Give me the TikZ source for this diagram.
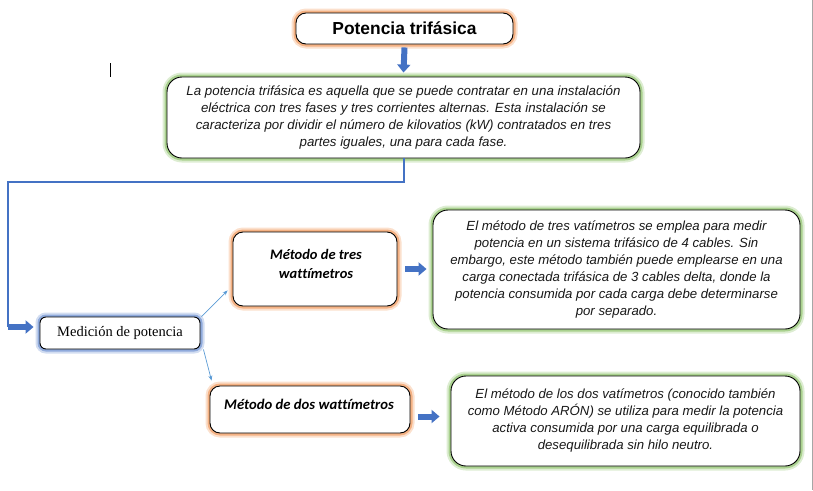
\documentclass[tikz,border=0pt]{standalone}
\usepackage{fontspec}
\setmainfont{Liberation Serif}
\newfontfamily\arialf{Liberation Sans}
\newfontfamily\calibrif[Ligatures=NoCommon]{Carlito}
\usetikzlibrary{arrows.meta,calc}
\definecolor{bluec}{HTML}{4472C4}
\definecolor{lblue}{HTML}{5B9BD5}
\definecolor{orglow}{HTML}{F4B183}
\definecolor{grglow}{HTML}{A9D18E}
\definecolor{blglow}{HTML}{8FAADC}
\tikzset{
  base/.style={draw=black, line width=0.9pt, fill=white, align=center, inner sep=0pt},
  orangebox/.style={base, rounded corners=10pt,
    preaction={draw=orglow!40, line width=9pt, rounded corners=10pt},
    preaction={draw=orglow, line width=5pt, rounded corners=10pt}},
  greenbox/.style={base, rounded corners=15pt,
    preaction={draw=grglow!40, line width=9pt, rounded corners=15pt},
    preaction={draw=grglow, line width=5pt, rounded corners=15pt}},
  bluebox/.style={base, rounded corners=6pt,
    preaction={draw=blglow!40, line width=9pt, rounded corners=6pt},
    preaction={draw=blglow, line width=5pt, rounded corners=6pt}},
  greentext/.style={font=\arialf\itshape\fontsize{13.2}{17}\selectfont, text=black!90},
  conn/.style={draw=bluec, line width=2pt},
  blockarrow/.style={draw=bluec, line width=6pt, -{Triangle[length=8pt,width=13pt]}},
  thinarrow/.style={draw=lblue, line width=0.7pt, -{Stealth[length=5pt,width=4pt]}},
}
\begin{document}
\begin{tikzpicture}[x=1pt,y=-1pt]
\useasboundingbox (0,0) rectangle (813,490);
% page edge and cursor
\draw[gray!70, line width=1pt] (812,0) -- (812,490);
\draw[black, line width=1pt] (110,63) -- (110,77);

\node[orangebox, minimum width=217pt, minimum height=31pt,
  font=\arialf\bfseries\fontsize{17.4}{19}\selectfont] (title) at (404.5,28.5) {Potencia trifásica};

\node[greenbox, minimum width=473pt, minimum height=81pt, greentext,
  font=\arialf\itshape\fontsize{13.3}{17}\selectfont] (g1) at (403.5,117.5)
 {La potencia trifásica es aquella que se puede contratar en una instalación\\
  eléctrica con tres fases y tres corrientes alternas. Esta instalación se\\
  caracteriza por dividir el número de kilovatios (kW) contratados en tres\\
  partes iguales, una para cada fase.};

\node[bluebox, minimum width=160pt, minimum height=32pt,
  font=\fontsize{14.5}{17}\selectfont] (med) at (120,333) {Medición de potencia};

\node[orangebox, minimum width=164pt, minimum height=74pt] (tres) at (315,269) {};
\node[font=\calibrif\bfseries\itshape\fontsize{14.5}{18.5}\selectfont, align=center, inner sep=0pt]
  (tresT) at (316,264) {Método de tres\\wattímetros};

\node[greenbox, minimum width=367pt, minimum height=119pt, greentext] (g2) at (616.5,269.5)
 {El método de tres vatímetros se emplea para medir\\
  potencia en un sistema trifásico de 4 cables. Sin\\
  embargo, este método también puede emplearse en una\\
  carga conectada trifásica de 3 cables delta, donde la\\
  potencia consumida por cada carga debe determinarse\\
  por separado.};

\node[orangebox, minimum width=200pt, minimum height=47pt] (dos) at (310,409.5) {};
\node[font=\calibrif\bfseries\itshape\fontsize{14.7}{18.5}\selectfont, inner sep=0pt]
  (dosT) at (309,404) {Método de dos wattímetros};

\node[greenbox, minimum width=349pt, minimum height=90pt, greentext] (g3) at (625.5,421)
 {El método de los dos vatímetros (conocido también\\
  como Método ARÓN) se utiliza para medir la potencia\\
  activa consumida por una carga equilibrada o\\
  desequilibrada sin hilo neutro.};

% connectors
\draw[blockarrow] ([yshift=-3pt]title.south) -- ([yshift=4pt]g1.north);
\coordinate (c1) at (8,182);
\coordinate (c2) at (8,327);
\draw[conn] (g1.south) |- (c1) -- (c2);
\draw[blockarrow] (c2) -- ([shift={(-6,-6)}]med.west);
\draw[thinarrow] ([shift={(1,0)}]med.north east) -- ([shift={(-5,-16)}]tres.south west);
\draw[thinarrow] ([shift={(3,0)}]med.south east) -- ([shift={(2,-5)}]dos.north west);
\draw[blockarrow] ([xshift=8pt]tres.east) -- ([xshift=-6pt]tres.east -| g2.west);
\draw[blockarrow] ([shift={(8,7)}]dos.east) -- ([shift={(-11,7)}]dos.east -| g3.west);
\end{tikzpicture}
\end{document}
